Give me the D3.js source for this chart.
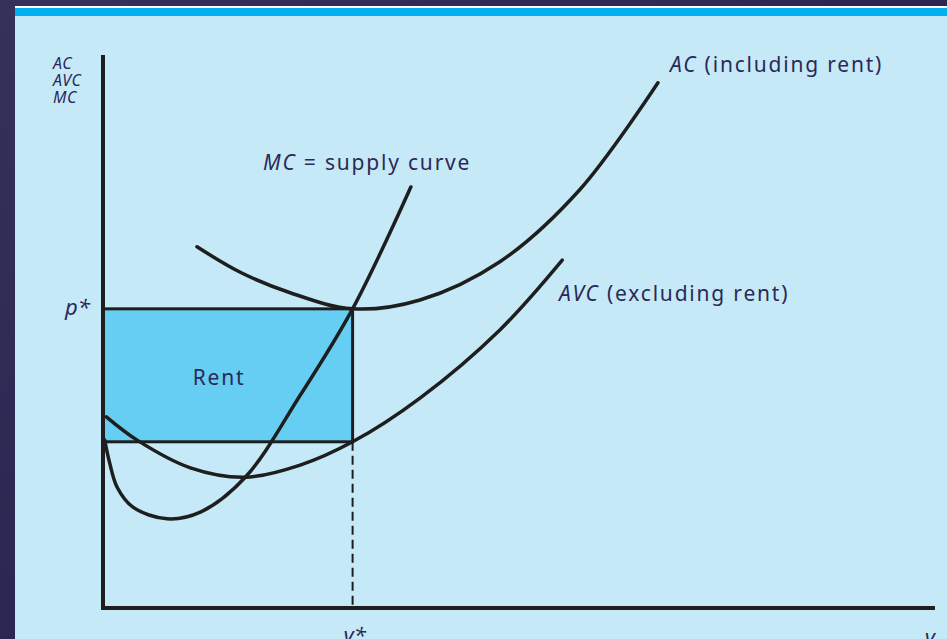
<!DOCTYPE html>
<html>
<head>
<meta charset="utf-8">
<script src="https://cdn.jsdelivr.net/npm/d3@7"></script>
<style>
  html, body { margin: 0; padding: 0; background: #2b2953; }
  svg { display: block; }
</style>
</head>
<body>
<div id="chart"></div>
<script>
const width = 947, height = 639;

// output (y) and price, in chart units
const yStar = 3.0, pStar = 5.4, avcAtYStar = 3.0;

const mcCurve = [
  [0.02, 3.03], [0.08, 2.62], [0.17, 2.18], [0.36, 1.82], [0.77, 1.61],
  [1.17, 1.73], [1.71, 2.36], [2.37, 3.84], [3.0, 5.4], [3.70, 7.60]
];
const avcCurve = [
  [0.04, 3.45], [0.41, 3.03], [1.05, 2.53], [1.71, 2.36], [2.37, 2.58],
  [3.0, 3.0], [3.81, 3.79], [4.77, 5.02], [5.52, 6.28]
];
const acCurve = [
  [1.13, 6.52], [1.65, 6.06], [2.25, 5.69], [3.0, 5.4], [3.81, 5.56],
  [4.77, 6.25], [5.73, 7.55], [6.67, 9.48]
];
const axisTitle = ["AC", "AVC", "MC"];

const svg = d3.select("#chart").append("svg")
  .attr("width", width)
  .attr("height", height);

// slide frame
const bg = svg.append("defs").append("linearGradient").attr("id", "bg")
  .attr("x1", 0).attr("y1", 0).attr("x2", 1).attr("y2", 1);
bg.append("stop").attr("offset", 0).attr("stop-color", "#34325a");
bg.append("stop").attr("offset", 1).attr("stop-color", "#201e4a");
svg.append("rect").attr("width", width).attr("height", height).attr("fill", "url(#bg)");
svg.append("rect").attr("x", 15).attr("y", 6).attr("width", width - 15).attr("height", 2).attr("fill", "#ffffff");
svg.append("rect").attr("x", 15).attr("y", 8).attr("width", width - 15).attr("height", 8).attr("fill", "#00b0f0");
svg.append("rect").attr("x", 15).attr("y", 16).attr("width", width - 15).attr("height", height - 16).attr("fill", "#c6e9f8");

const x = d3.scaleLinear().domain([0, 10]).range([103, 935]);
const y = d3.scaleLinear().domain([0, 10]).range([608, 54]);

// rent rectangle
svg.append("rect")
  .attr("x", x(0)).attr("y", y(pStar))
  .attr("width", x(yStar) - x(0)).attr("height", y(avcAtYStar) - y(pStar))
  .attr("fill", "#66cdf3")
  .attr("stroke", "#1e1e1e").attr("stroke-width", 3);

// dashed drop line to y*
svg.append("line")
  .attr("x1", x(yStar)).attr("x2", x(yStar))
  .attr("y1", y(avcAtYStar)).attr("y2", y(0))
  .attr("stroke", "#1e1e1e").attr("stroke-width", 2)
  .attr("stroke-dasharray", "9,5");

const line = d3.line().x(d => x(d[0])).y(d => y(d[1])).curve(d3.curveCatmullRom.alpha(0.5));

[mcCurve, avcCurve, acCurve].forEach(c => {
  svg.append("path")
    .attr("d", line(c))
    .attr("fill", "none")
    .attr("stroke", "#1e1e1e")
    .attr("stroke-width", 3.5)
    .attr("stroke-linecap", "round");
});

// axes
svg.append("path")
  .attr("d", `M${x(0)},${y(9.98)} V${y(0)} H${x(10)}`)
  .attr("fill", "none").attr("stroke", "#1e1e1e").attr("stroke-width", 4);

const font = "'Noto Sans', 'Open Sans', sans-serif";
const ink = "#2b2957";

function label(px, py, parts, size, anchor, spacing) {
  const t = svg.append("text")
    .attr("x", px).attr("y", py)
    .attr("font-family", font).attr("font-size", size)
    .attr("letter-spacing", spacing || 0)
    .attr("fill", ink).attr("text-anchor", anchor || "start");
  parts.forEach(p => t.append("tspan").attr("font-style", p[1] ? "italic" : "normal").text(p[0]));
  return t;
}

// y axis title
axisTitle.forEach((s, i) => label(53, 69 + i * 17, [[s, true]], 16, "start", 0.5));

label(x(yStar) + 2, 643, [["y*", true]], 22, "middle");
label(x(10) - 5, 645, [["y", true]], 22, "middle");
label(x(0) - 38, y(pStar) + 6, [["p*", true]], 22);

label(670, 72, [["AC", true], [" (including rent)", false]], 21, "start", 1.8);
label(263, 170, [["MC", true], [" = supply curve", false]], 21, "start", 1.8);
label(559, 301, [["AVC", true], [" (excluding rent)", false]], 21, "start", 1.8);
label(219, 385, [["Rent", false]], 21, "middle", 1.8);
</script>
</body>
</html>
